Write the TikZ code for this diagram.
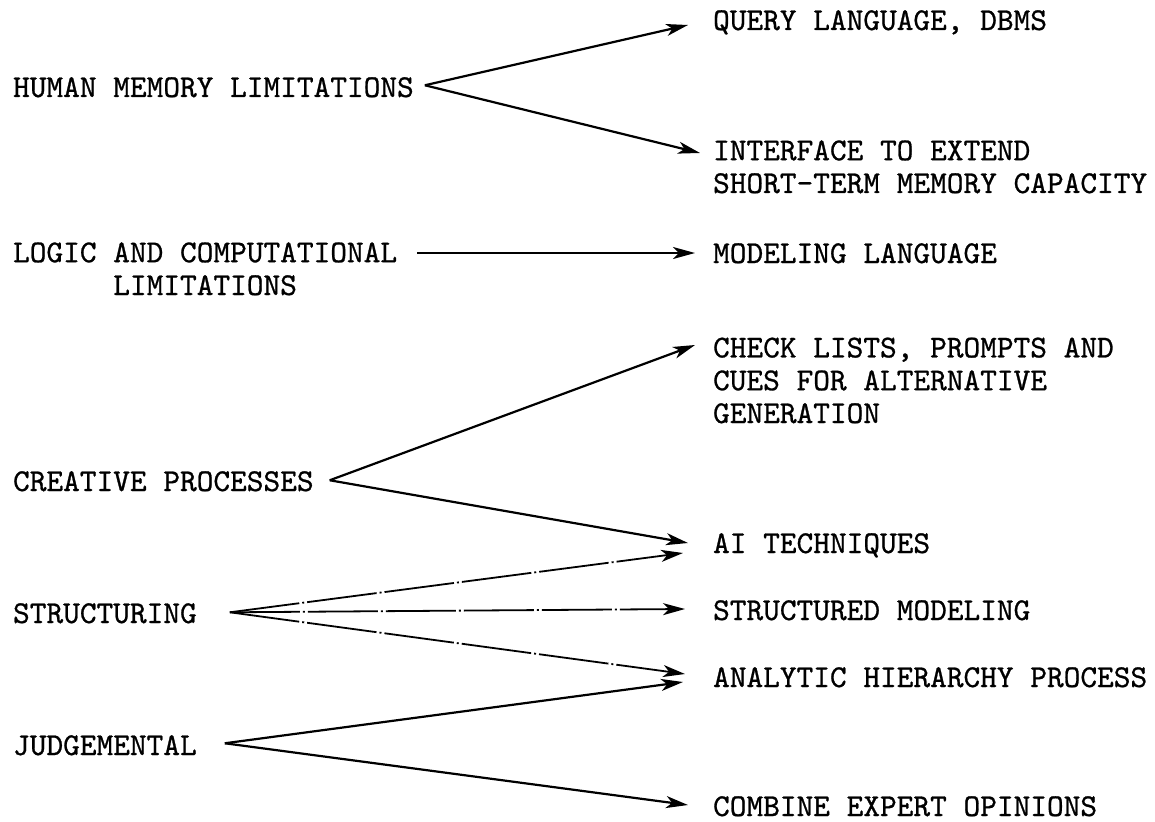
\documentclass[tikz,border=0pt]{standalone}
\usepackage{fontspec}
\setmonofont[FakeBold=0.8]{lmmono10-regular.otf}
\usetikzlibrary{arrows.meta}

\begin{document}
\begin{tikzpicture}[x=1pt,y=-1pt,line width=2.2pt,
    font=\ttfamily\fontsize{31.8}{32.8}\selectfont,inner sep=0pt,
    lbl/.style={anchor=base west,align=left},
    arr/.style={-{Stealth[length=22pt,width=12pt,inset=6pt]}},
    broken/.style={arr,line width=1.8pt,dash pattern=on 70pt off 3pt on 2pt off 3pt}]
    \path[use as bounding box] (0,0) rectangle (1155,821);
    % causes (multi-line nodes sit on their last baseline)
    \node[lbl] (hum) at (12,97) {HUMAN MEMORY LIMITATIONS};
    \node[lbl] (logic) at (12,295) {LOGIC AND COMPUTATIONAL\\\phantom{LOGIC }LIMITATIONS};
    \node[lbl] (creat) at (12,491) {CREATIVE PROCESSES};
    \node[lbl] (struc) at (12,623) {STRUCTURING};
    \node[lbl] (judg) at (12,755) {JUDGEMENTAL};
    % support
    \node[lbl] (query) at (712,30) {QUERY LANGUAGE, DBMS};
    \node[lbl] (iface) at (712,193) {INTERFACE TO EXTEND\\SHORT-TERM MEMORY CAPACITY};
    \node[lbl] (model) at (712,263) {MODELING LANGUAGE};
    \node[lbl] (check) at (712,423) {CHECK LISTS, PROMPTS AND\\CUES FOR ALTERNATIVE\\GENERATION};
    \node[lbl] (ai) at (712,553) {AI TECHNIQUES};
    \node[lbl] (smod) at (712,620) {STRUCTURED MODELING};
    \node[lbl] (ahp) at (712,687) {ANALYTIC HIERARCHY PROCESS};
    \node[lbl] (comb) at (712,816) {COMBINE EXPERT OPINIONS};
    % arrows
    \draw[arr] ([shift={(10,-2)}]hum.east) -- ([shift={(-24,-5)}]query.base west);
    \draw[arr] ([shift={(10,-2)}]hum.east) -- ([shift={(-12,-40)}]iface.base west);
    \draw[arr] ([shift={(19,-42)}]logic.base east) -- ([shift={(-17,-10)}]model.base west);
    \draw[arr] ([shift={(15,-1)}]creat.east) -- ([shift={(-17,-78)}]check.base west);
    \draw[arr] ([shift={(15,-1)}]creat.east) -- ([shift={(-24,-10)}]ai.base west);
    \draw[broken] ([shift={(32,-1)}]struc.east) -- ([shift={(-29,0)}]ai.base west);
    \draw[broken] ([shift={(32,-1)}]struc.east) -- ([shift={(-27,-11)}]smod.base west);
    \draw[broken] ([shift={(32,-1)}]struc.east) -- ([shift={(-27,-13)}]ahp.base west);
    \draw[arr] ([shift={(27,-2)}]judg.east) -- ([shift={(-29,-5)}]ahp.base west);
    \draw[arr] ([shift={(27,-2)}]judg.east) -- ([shift={(-24,-11)}]comb.base west);
  \end{tikzpicture}
\end{document}
